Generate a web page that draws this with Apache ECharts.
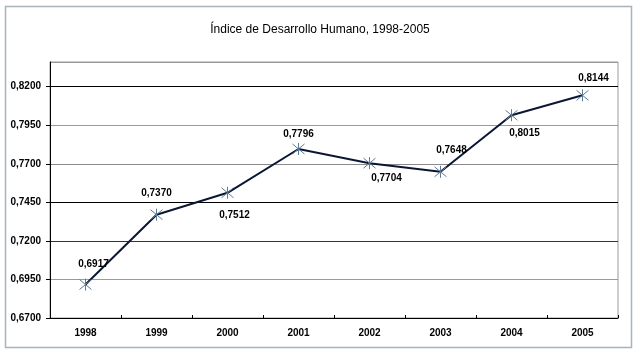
<!DOCTYPE html>
<html>
<head>
<meta charset="utf-8">
<script src="https://cdn.jsdelivr.net/npm/echarts@6/dist/echarts.min.js"></script>
<style>
html,body{margin:0;padding:0;background:#fff;}
#chart{width:640px;height:357px;}
</style>
</head>
<body>
<div id="chart"></div>
<script>
var titleText = 'Índice de Desarrollo Humano, 1998-2005';
var years = ['1998', '1999', '2000', '2001', '2002', '2003', '2004', '2005'];
var idh = [0.6917, 0.7370, 0.7512, 0.7796, 0.7704, 0.7648, 0.8015, 0.8144];
var yMin = 0.67, yMax = 0.836, yStep = 0.025;

// label placement (layout only)
var labelSide = ['top', 'top', 'bottom', 'top', 'bottom', 'top', 'bottom', 'top'];
var labelShift = [[8, -4], [0, -5], [7, 6], [0, 2], [17, -1], [11, -5], [13, 2], [11, -1]];

function fmt(v) { return v.toFixed(4).replace('.', ','); }

var seriesData = idh.map(function (v, i) {
  return {
    value: v,
    label: { position: labelSide[i], offset: labelShift[i] }
  };
});

var chart = echarts.init(document.getElementById('chart'));
chart.setOption({
  backgroundColor: '#ffffff',
  animation: false,
  title: {
    text: titleText,
    left: 'center',
    top: 19,
    textStyle: { fontFamily: 'Liberation Sans', fontSize: 12, fontWeight: 'normal', color: '#000' }
  },
  graphic: [{
    type: 'rect',
    shape: { x: 5.5, y: 6.5, width: 626, height: 341 },
    style: { fill: 'none', stroke: '#a9b3ba', lineWidth: 1.5 },
    silent: true
  }],
  grid: {
    left: 50, right: 22, top: 62, bottom: 39,
    show: true, borderColor: '#9a9a9a', borderWidth: 1
  },
  xAxis: {
    type: 'category',
    data: years,
    boundaryGap: true,
    axisLine: { lineStyle: { color: '#000', width: 1 } },
    axisTick: { show: true, inside: true, length: 3, lineStyle: { color: '#000' } },
    axisLabel: { margin: 10, fontFamily: 'Liberation Sans', fontSize: 10, fontWeight: 'bold', color: '#000' },
    splitLine: { show: false }
  },
  yAxis: {
    type: 'value',
    min: yMin, max: yMax, interval: yStep,
    axisLine: { show: true, lineStyle: { color: '#000', width: 1 } },
    axisTick: { show: true, length: 4, lineStyle: { color: '#000' } },
    axisLabel: {
      margin: 9, fontFamily: 'Liberation Sans', fontSize: 10, fontWeight: 'bold', color: '#000',
      showMaxLabel: false,
      formatter: function (v) { return v > 0.83 ? '' : fmt(v); }
    },
    splitLine: {
      show: true,
      lineStyle: { color: ['#000', '#9a9a9a', '#333', '#000', '#8a8a8a', '#9a9a9a', '#000', '#9a9a9a'], width: 1 }
    }
  },
  series: [{
    type: 'line',
    data: seriesData,
    symbol: 'path://M0,0 L10,10 M10,0 L0,10 M5,-1 L5,11',
    symbolSize: 12,
    showAllSymbol: true,
    lineStyle: { color: '#0a1633', width: 2 },
    itemStyle: { color: 'rgba(0,0,0,0)', borderColor: '#5d7a96', borderWidth: 1 },
    label: {
      show: true,
      distance: 5,
      fontFamily: 'Liberation Sans', fontSize: 10, fontWeight: 'bold', color: '#000',
      formatter: function (p) { return fmt(p.value); }
    },
    z: 3
  }]
});
</script>
</body>
</html>
